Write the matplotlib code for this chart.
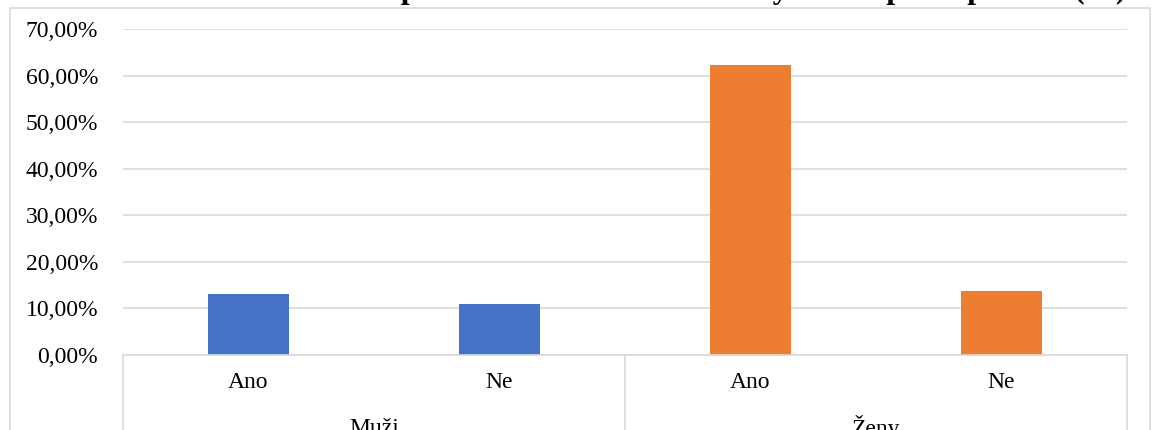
import matplotlib
matplotlib.use('Agg')
import matplotlib.pyplot as plt
from matplotlib.lines import Line2D
from matplotlib.patches import Rectangle
from matplotlib.ticker import FuncFormatter

# values in percent
groups = ["Muži", "Ženy"]
answers = ["Ano", "Ne"]
values = [13.0, 11.0, 62.3, 13.7]
colors = ["#4472C4", "#4472C4", "#ED7D31", "#ED7D31"]
y_ticks = [0, 10, 20, 30, 40, 50, 60, 70]
title = "Graf č. 37: Informovanost respondentů o možnosti samovyšetření podle pohlaví (%)"

plt.rcParams['font.family'] = ['Liberation Serif', 'DejaVu Serif']

W, H = 1160, 430
fig = plt.figure(figsize=(W / 100, H / 100), dpi=100)

def fx(px):
    return px / W

def fy(py):
    return 1 - py / H

left, right, top, bottom = 123, 1127, 29, 355
ax = fig.add_axes([fx(left), fy(bottom), fx(right - left), fy(top) - fy(bottom)])

x = list(range(len(values)))
ax.bar(x, values, width=0.32, color=colors, zorder=3)
ax.set_xlim(-0.5, len(values) - 0.5)
ax.set_ylim(0, 70)
ax.set_yticks(y_ticks)
ax.yaxis.set_major_formatter(FuncFormatter(lambda v, p: f"{v:.2f}".replace(".", ",") + "%"))
ax.tick_params(axis='y', length=0, pad=18, labelsize=17)
ax.set_xticks([])
ax.grid(axis='y', color='#d9d9d9', linewidth=1.2, zorder=0)
for s in ['top', 'right', 'left']:
    ax.spines[s].set_visible(False)
ax.spines['bottom'].set_color('#d9d9d9')
ax.spines['bottom'].set_linewidth(1.2)
ax.spines['bottom'].set_zorder(4)

# answer labels under each bar
for i, v in enumerate(values):
    xf = fx(left) + (i + 0.5) / len(values) * fx(right - left)
    fig.text(xf, fy(383), answers[i % 2], ha='center', va='center', fontsize=17)

# group labels and separators
for g, name in enumerate(groups):
    xf = fx(left) + (g + 0.5) / len(groups) * fx(right - left)
    fig.text(xf, fy(428), name, ha='center', va='center', fontsize=17)
for g in range(len(groups) + 1):
    xf = fx(left) + g / len(groups) * fx(right - left)
    fig.add_artist(Line2D([xf, xf], [fy(bottom), 0], color='#d9d9d9', linewidth=1.2))

# outer chart frame
fig.add_artist(Rectangle((fx(10), -0.1), fx(1140), fy(8) + 0.1, fill=False,
                         edgecolor='#d9d9d9', linewidth=1.2))

# caption above the frame, stretched to the frame width
t = fig.text(fx(565), fy(-2), title, ha='center', va='baseline', fontsize=22, fontweight='bold')
r = fig.canvas.get_renderer()
w = t.get_window_extent(r).width
t.set_fontsize(22 * 1120 / w)

fig.savefig("out.png", dpi=100)
